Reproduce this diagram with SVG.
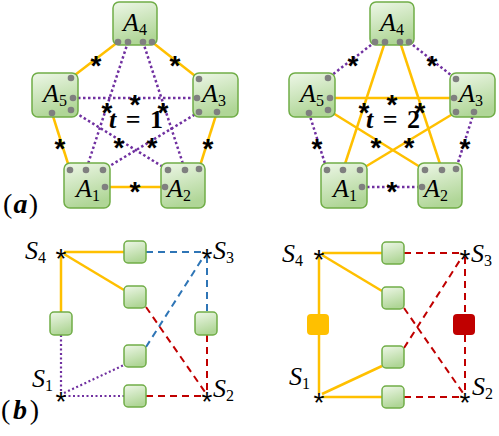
<svg xmlns="http://www.w3.org/2000/svg" width="499" height="436" viewBox="0 0 499 436">
<defs>
<linearGradient id="gg" x1="0" y1="0" x2="0.3" y2="1">
<stop offset="0" stop-color="#eef7e8"/>
<stop offset="1" stop-color="#b0d697"/>
</linearGradient>
<style>
.box{fill:url(#gg);stroke:#70ad47;stroke-width:1.5}
.ys{fill:none;stroke:#ffc000;stroke-width:2.5}
.pd{fill:none;stroke:#7030a0;stroke-width:2.5;stroke-dasharray:2.5 2.5}
.pd2{fill:none;stroke:#7030a0;stroke-width:2.2;stroke-dasharray:2 2.5}
.bd{fill:none;stroke:#2e75b6;stroke-width:2;stroke-dasharray:7 5}
.rd{fill:none;stroke:#c00000;stroke-width:2;stroke-dasharray:7 5}
.dot{fill:#7f7f7f}
.ast{font-family:"Liberation Sans",Arial,sans-serif;font-weight:bold;font-size:28px;fill:#000;text-anchor:middle}
.ast2{font-family:"Liberation Sans",Arial,sans-serif;font-size:28px;fill:#000;text-anchor:middle}
.lab{font-family:"Liberation Serif","Times New Roman",serif;font-style:italic;font-size:26px;fill:#000}
.slab{font-family:"Liberation Serif","Times New Roman",serif;font-style:italic;font-size:26px;fill:#000}
.sub{font-style:normal;font-size:16px}
.ssub{font-style:normal;font-size:16px}
.t{font-family:"Liberation Serif","Times New Roman",serif;font-weight:bold;font-size:26px;fill:#000;text-anchor:middle}
.pl{font-family:"Liberation Serif","Times New Roman",serif;font-size:28px;fill:#000}
</style>
</defs>
<rect width="499" height="436" fill="#fff"/>

<!-- connectors -->
<g id="connectors">
 <g id="conn-a1">
  <line class="ys" x1="118" y1="42" x2="71" y2="78"/>
  <line class="ys" x1="152" y1="42" x2="199" y2="79"/>
  <line class="ys" x1="52" y1="113" x2="70" y2="170"/>
  <line class="ys" x1="217" y1="112" x2="199" y2="169"/>
  <line class="ys" x1="105" y1="187" x2="165" y2="187"/>
  <line class="pd" x1="128" y1="42" x2="86" y2="170"/>
  <line class="pd" x1="143" y1="42" x2="185" y2="170"/>
  <line class="pd" x1="73" y1="98" x2="197" y2="98"/>
  <line class="pd" x1="71" y1="110" x2="168" y2="170"/>
  <line class="pd" x1="199" y1="112" x2="103" y2="170"/>
  <text class="ast" x="96" y="75">*</text>
  <text class="ast" x="175" y="75">*</text>
  <text class="ast" x="60" y="158">*</text>
  <text class="ast" x="208" y="158">*</text>
  <text class="ast" x="135" y="201">*</text>
  <text class="ast" x="107" y="122">*</text>
  <text class="ast" x="163" y="122">*</text>
  <text class="ast" x="135" y="114">*</text>
  <text class="ast" x="119" y="157">*</text>
  <text class="ast" x="152" y="157">*</text>
 </g>
 <g id="conn-a2" transform="translate(257,0)">
  <line class="pd" x1="118" y1="42" x2="71" y2="78"/>
  <line class="pd" x1="152" y1="42" x2="199" y2="79"/>
  <line class="pd" x1="52" y1="113" x2="70" y2="170"/>
  <line class="pd" x1="217" y1="112" x2="199" y2="169"/>
  <line class="pd" x1="105" y1="187" x2="165" y2="187"/>
  <line class="ys" x1="128" y1="42" x2="86" y2="170"/>
  <line class="ys" x1="143" y1="42" x2="185" y2="170"/>
  <line class="ys" x1="73" y1="98" x2="197" y2="98"/>
  <line class="ys" x1="71" y1="110" x2="168" y2="170"/>
  <line class="ys" x1="199" y1="112" x2="103" y2="170"/>
  <text class="ast" x="96" y="75">*</text>
  <text class="ast" x="175" y="75">*</text>
  <text class="ast" x="60" y="158">*</text>
  <text class="ast" x="208" y="158">*</text>
  <text class="ast" x="135" y="201">*</text>
  <text class="ast" x="107" y="122">*</text>
  <text class="ast" x="163" y="122">*</text>
  <text class="ast" x="135" y="114">*</text>
  <text class="ast" x="119" y="157">*</text>
  <text class="ast" x="152" y="157">*</text>
 </g>
 <g id="conn-b1">
  <line class="ys" x1="64" y1="252" x2="124" y2="252"/>
  <line class="ys" x1="64" y1="254" x2="124" y2="290"/>
  <line class="ys" x1="61" y1="256" x2="61" y2="312"/>
  <line class="bd" x1="146" y1="252" x2="203" y2="252"/>
  <line class="bd" x1="207" y1="256" x2="207" y2="312"/>
  <line class="bd" x1="146" y1="347" x2="204" y2="256"/>
  <line class="rd" x1="146" y1="307" x2="205" y2="392"/>
  <line class="rd" x1="207" y1="335" x2="207" y2="392"/>
  <line class="rd" x1="146" y1="396" x2="204" y2="396"/>
  <line class="pd2" x1="61" y1="335" x2="61" y2="392"/>
  <line class="pd2" x1="64" y1="393" x2="124" y2="365"/>
  <line class="pd2" x1="64" y1="396" x2="124" y2="396"/>
  <text class="ast2" x="61" y="268">*</text>
  <text class="ast2" x="207" y="268">*</text>
  <text class="ast2" x="61" y="411">*</text>
  <text class="ast2" x="207" y="411">*</text>
 </g>
 <g id="conn-b2" transform="translate(258,1)">
  <line class="ys" x1="64" y1="252" x2="124" y2="252"/>
  <line class="ys" x1="64" y1="254" x2="124" y2="290"/>
  <line class="ys" x1="61" y1="256" x2="61" y2="313"/>
  <line class="ys" x1="61" y1="334" x2="61" y2="392"/>
  <line class="ys" x1="64" y1="393" x2="124" y2="365"/>
  <line class="ys" x1="64" y1="396" x2="124" y2="396"/>
  <line class="rd" x1="146" y1="252" x2="203" y2="252"/>
  <line class="rd" x1="207" y1="256" x2="207" y2="313"/>
  <line class="rd" x1="207" y1="334" x2="207" y2="392"/>
  <line class="rd" x1="146" y1="347" x2="204" y2="256"/>
  <line class="rd" x1="146" y1="307" x2="205" y2="392"/>
  <line class="rd" x1="146" y1="396" x2="204" y2="396"/>
  <text class="ast2" x="61" y="268">*</text>
  <text class="ast2" x="207" y="268">*</text>
  <text class="ast2" x="61" y="411">*</text>
  <text class="ast2" x="207" y="411">*</text>
 </g>
</g>

<!-- panel (a) left, t=1 -->
<g id="a1-A4"><rect class="box" x="113" y="2" width="44" height="43" rx="6"/><text class="lab" x="123" y="31">A<tspan class="sub" dy="4">4</tspan></text>
 <circle class="dot" cx="118" cy="42" r="3.3"/><circle class="dot" cx="128" cy="42" r="3.3"/><circle class="dot" cx="143" cy="42" r="3.3"/><circle class="dot" cx="152" cy="42" r="3.3"/></g>
<g id="a1-A5"><rect class="box" x="32" y="73" width="46" height="44" rx="6"/><text class="lab" x="43" y="102">A<tspan class="sub" dy="4">5</tspan></text>
 <circle class="dot" cx="71" cy="78" r="3.3"/><circle class="dot" cx="73" cy="98" r="3.3"/><circle class="dot" cx="52" cy="113" r="3.3"/><circle class="dot" cx="71" cy="110" r="3.3"/></g>
<g id="a1-A3"><rect class="box" x="193" y="73" width="45" height="44" rx="6"/><text class="lab" x="202" y="102">A<tspan class="sub" dy="4">3</tspan></text>
 <circle class="dot" cx="199" cy="79" r="3.3"/><circle class="dot" cx="197" cy="98" r="3.3"/><circle class="dot" cx="199" cy="112" r="3.3"/><circle class="dot" cx="217" cy="112" r="3.3"/></g>
<g id="a1-A1"><rect class="box" x="64" y="163" width="46" height="45" rx="6"/><text class="lab" x="76" y="197">A<tspan class="sub" dy="4">1</tspan></text>
 <circle class="dot" cx="70" cy="170" r="3.3"/><circle class="dot" cx="86" cy="170" r="3.3"/><circle class="dot" cx="103" cy="170" r="3.3"/><circle class="dot" cx="105" cy="187" r="3.3"/></g>
<g id="a1-A2"><rect class="box" x="161" y="163" width="44" height="45" rx="6"/><text class="lab" x="167" y="197">A<tspan class="sub" dy="4">2</tspan></text>
 <circle class="dot" cx="165" cy="187" r="3.3"/><circle class="dot" cx="168" cy="170" r="3.3"/><circle class="dot" cx="185" cy="170" r="3.3"/><circle class="dot" cx="199" cy="169" r="3.3"/></g>
<text class="t" x="136" y="128" textLength="54" lengthAdjust="spacing"><tspan font-style="italic">t</tspan> = 1</text>

<!-- panel (a) right, t=2 -->
<g transform="translate(257,0)">
<g id="a2-A4"><rect class="box" x="113" y="2" width="44" height="43" rx="6"/><text class="lab" x="123" y="31">A<tspan class="sub" dy="4">4</tspan></text>
 <circle class="dot" cx="118" cy="42" r="3.3"/><circle class="dot" cx="128" cy="42" r="3.3"/><circle class="dot" cx="143" cy="42" r="3.3"/><circle class="dot" cx="152" cy="42" r="3.3"/></g>
<g id="a2-A5"><rect class="box" x="32" y="73" width="46" height="44" rx="6"/><text class="lab" x="43" y="102">A<tspan class="sub" dy="4">5</tspan></text>
 <circle class="dot" cx="71" cy="78" r="3.3"/><circle class="dot" cx="73" cy="98" r="3.3"/><circle class="dot" cx="52" cy="113" r="3.3"/><circle class="dot" cx="71" cy="110" r="3.3"/></g>
<g id="a2-A3"><rect class="box" x="193" y="73" width="45" height="44" rx="6"/><text class="lab" x="202" y="102">A<tspan class="sub" dy="4">3</tspan></text>
 <circle class="dot" cx="199" cy="79" r="3.3"/><circle class="dot" cx="197" cy="98" r="3.3"/><circle class="dot" cx="199" cy="112" r="3.3"/><circle class="dot" cx="217" cy="112" r="3.3"/></g>
<g id="a2-A1"><rect class="box" x="64" y="163" width="46" height="45" rx="6"/><text class="lab" x="76" y="197">A<tspan class="sub" dy="4">1</tspan></text>
 <circle class="dot" cx="70" cy="170" r="3.3"/><circle class="dot" cx="86" cy="170" r="3.3"/><circle class="dot" cx="103" cy="170" r="3.3"/><circle class="dot" cx="105" cy="187" r="3.3"/></g>
<g id="a2-A2"><rect class="box" x="161" y="163" width="44" height="45" rx="6"/><text class="lab" x="167" y="197">A<tspan class="sub" dy="4">2</tspan></text>
 <circle class="dot" cx="165" cy="187" r="3.3"/><circle class="dot" cx="168" cy="170" r="3.3"/><circle class="dot" cx="185" cy="170" r="3.3"/><circle class="dot" cx="199" cy="169" r="3.3"/></g>
<text class="t" x="136" y="128" textLength="54" lengthAdjust="spacing"><tspan font-style="italic">t</tspan> = 2</text>
</g>

<text class="pl" x="3" y="213" textLength="35" lengthAdjust="spacing">(<tspan font-weight="bold" font-style="italic">a</tspan>)</text>
<text class="pl" x="1" y="419" textLength="38" lengthAdjust="spacing">(<tspan font-weight="bold" font-style="italic">b</tspan>)</text>

<!-- panel (b) left -->
<g id="b1-top"><rect class="box" x="124" y="241" width="22" height="22" rx="4"/></g>
<g id="b1-mid1"><rect class="box" x="124" y="286" width="22" height="22" rx="4"/></g>
<g id="b1-left"><rect class="box" x="50" y="312" width="22" height="23" rx="4"/></g>
<g id="b1-right"><rect class="box" x="195" y="312" width="22" height="23" rx="4"/></g>
<g id="b1-mid2"><rect class="box" x="124" y="345" width="22" height="22" rx="4"/></g>
<g id="b1-bot"><rect class="box" x="124" y="385" width="22" height="22" rx="4"/></g>
<g id="b1-S4"><text class="slab" x="25" y="259">S<tspan class="ssub" dy="4">4</tspan></text></g>
<g id="b1-S3"><text class="slab" x="213" y="259">S<tspan class="ssub" dy="4">3</tspan></text></g>
<g id="b1-S1"><text class="slab" x="32" y="387">S<tspan class="ssub" dy="4">1</tspan></text></g>
<g id="b1-S2"><text class="slab" x="213" y="397">S<tspan class="ssub" dy="4">2</tspan></text></g>

<!-- panel (b) right -->
<g transform="translate(258,1)">
<g id="b2-top"><rect class="box" x="124" y="241" width="22" height="22" rx="4"/></g>
<g id="b2-mid1"><rect class="box" x="124" y="286" width="22" height="22" rx="4"/></g>
<g id="b2-left"><rect x="49" y="313" width="22" height="21" rx="4" fill="#ffc000"/></g>
<g id="b2-right"><rect x="195" y="313" width="22" height="21" rx="4" fill="#c00000"/></g>
<g id="b2-mid2"><rect class="box" x="124" y="345" width="22" height="22" rx="4"/></g>
<g id="b2-bot"><rect class="box" x="124" y="385" width="22" height="22" rx="4"/></g>
<g id="b2-S4"><text class="slab" x="24" y="261">S<tspan class="ssub" dy="4">4</tspan></text></g>
<g id="b2-S3"><text class="slab" x="213" y="261">S<tspan class="ssub" dy="4">3</tspan></text></g>
<g id="b2-S1"><text class="slab" x="31" y="384">S<tspan class="ssub" dy="4">1</tspan></text></g>
<g id="b2-S2"><text class="slab" x="214" y="394">S<tspan class="ssub" dy="4">2</tspan></text></g>
</g>
</svg>
